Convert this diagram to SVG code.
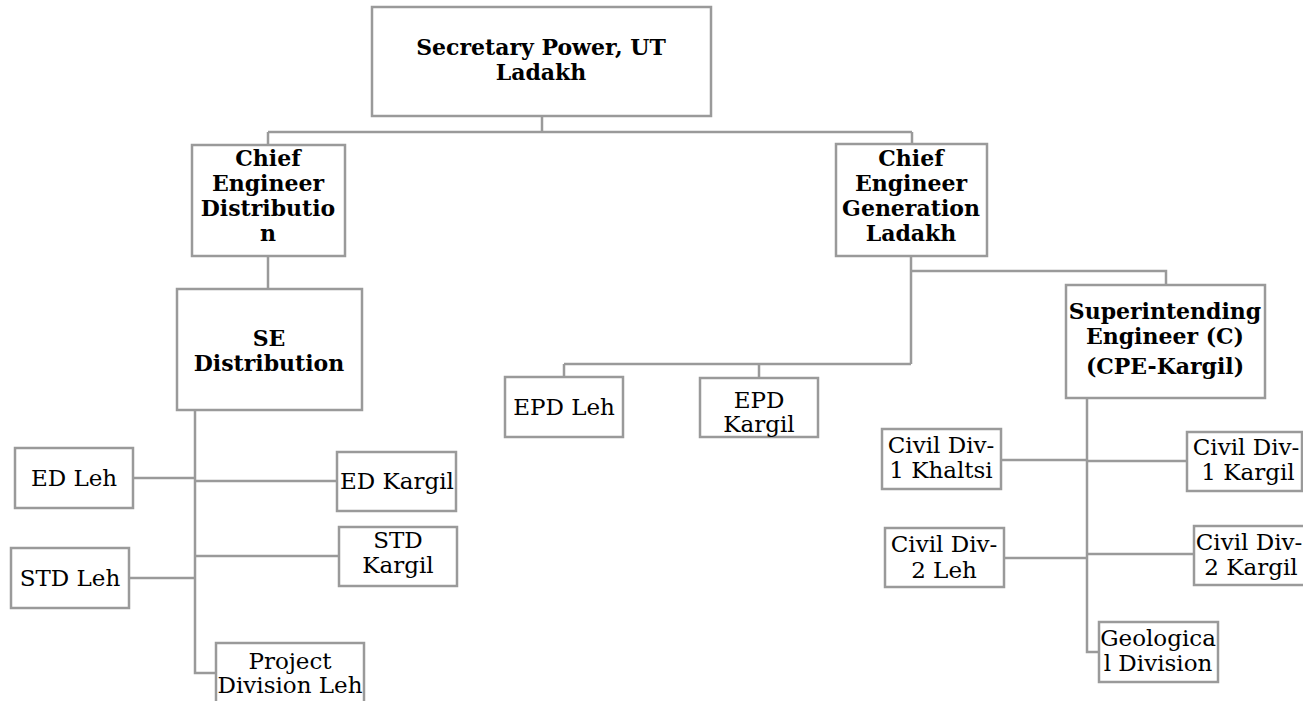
<svg xmlns="http://www.w3.org/2000/svg" width="1303" height="701" viewBox="0 0 1303 701">
<style>
.box{fill:#fff;stroke:#9a9a9a;stroke-width:2.5}
.con{fill:none;stroke:#9a9a9a;stroke-width:2.5}
.b{font-family:"DejaVu Serif","Liberation Serif",serif;font-weight:bold;font-size:22px;fill:#000;text-anchor:middle}
.r{font-family:"DejaVu Serif","Liberation Serif",serif;font-size:23px;fill:#000;text-anchor:middle}
</style>
<rect width="1303" height="701" fill="#fff"/>
<g id="connectors" class="con">
<path d="M542,116V132M268,132H912M268,132V145M912,132V144"/>
<path d="M268,256V289"/>
<path d="M195,410V673H216"/>
<path d="M133,478H195M195,481H337M129,578H195M195,556H339"/>
<path d="M911,256V364M564,364H911M564,364V377M759,364V378"/>
<path d="M911,271H1166V285"/>
<path d="M1087,398V652H1099M1001,460H1087M1087,461H1187M1004,558H1087M1087,554H1194"/>
</g>
<g id="secretary"><rect class="box" x="372" y="7" width="339" height="109"/><text class="b" x="541" y="55">Secretary Power, UT</text><text class="b" x="541" y="80">Ladakh</text></g>
<g id="ce-distribution"><rect class="box" x="192" y="145" width="153" height="111"/><text class="b" x="268" y="166">Chief</text><text class="b" x="268" y="191">Engineer</text><text class="b" x="268" y="216">Distributio</text><text class="b" x="268" y="241">n</text></g>
<g id="ce-generation"><rect class="box" x="836" y="144" width="151" height="112"/><text class="b" x="911" y="166">Chief</text><text class="b" x="911" y="191">Engineer</text><text class="b" x="911" y="216">Generation</text><text class="b" x="911" y="241">Ladakh</text></g>
<g id="se-distribution"><rect class="box" x="177" y="289" width="185" height="121"/><text class="b" x="269" y="346">SE</text><text class="b" x="269" y="371">Distribution</text></g>
<g id="se-civil"><rect class="box" x="1066" y="285" width="199" height="113"/><text class="b" x="1165" y="319">Superintending</text><text class="b" x="1165" y="344">Engineer (C)</text><text class="b" x="1165" y="374">(CPE-Kargil)</text></g>
<g id="epd-leh"><rect class="box" x="505" y="377" width="118" height="60"/><text class="r" x="564" y="415">EPD Leh</text></g>
<g id="epd-kargil"><rect class="box" x="700" y="378" width="118" height="59"/><text class="r" x="759" y="408">EPD</text><text class="r" x="759" y="432">Kargil</text></g>
<g id="ed-leh"><rect class="box" x="15" y="448" width="118" height="60"/><text class="r" x="74" y="486">ED Leh</text></g>
<g id="ed-kargil"><rect class="box" x="337" y="452" width="119" height="59"/><text class="r" x="397" y="489">ED Kargil</text></g>
<g id="std-leh"><rect class="box" x="11" y="548" width="118" height="60"/><text class="r" x="70" y="586">STD Leh</text></g>
<g id="std-kargil"><rect class="box" x="339" y="527" width="118" height="59"/><text class="r" x="398" y="548">STD</text><text class="r" x="398" y="573">Kargil</text></g>
<g id="project-division"><rect class="box" x="216" y="643" width="148" height="70"/><text class="r" x="290" y="669">Project</text><text class="r" x="290" y="693">Division Leh</text></g>
<g id="civil-1-khaltsi"><rect class="box" x="882" y="429" width="119" height="60"/><text class="r" x="941" y="453">Civil Div-</text><text class="r" x="941" y="478">1 Khaltsi</text></g>
<g id="civil-1-kargil"><rect class="box" x="1187" y="432" width="115" height="59"/><text class="r" x="1246" y="455">Civil Div-</text><text class="r" x="1248" y="480">1 Kargil</text></g>
<g id="civil-2-leh"><rect class="box" x="885" y="528" width="119" height="59"/><text class="r" x="944" y="552">Civil Div-</text><text class="r" x="944" y="578">2 Leh</text></g>
<g id="civil-2-kargil"><rect class="box" x="1194" y="526" width="119" height="59"/><text class="r" x="1249" y="550">Civil Div-</text><text class="r" x="1251" y="575">2 Kargil</text></g>
<g id="geological"><rect class="box" x="1099" y="622" width="119" height="60"/><text class="r" x="1158" y="646">Geologica</text><text class="r" x="1158" y="671">l Division</text></g>
</svg>
